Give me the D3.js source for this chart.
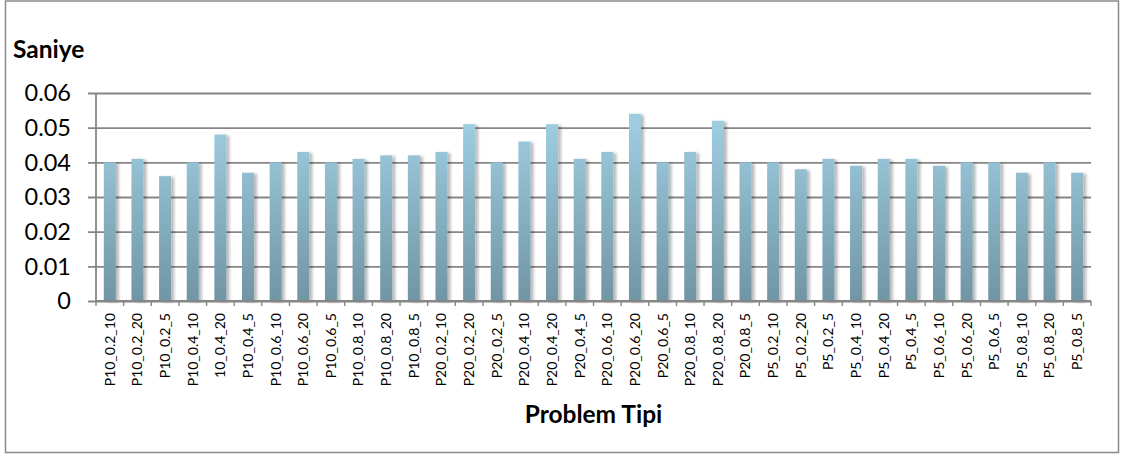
<!DOCTYPE html>
<html>
<head>
<meta charset="utf-8">
<script src="https://cdn.jsdelivr.net/npm/d3@7/dist/d3.min.js"></script>
<style>
  html, body { margin: 0; padding: 0; background: #fff; }
  svg { display: block; }
  text { font-family: Lato, "Open Sans", "Liberation Sans", sans-serif; }
</style>
</head>
<body>
<svg id="chart" width="1121" height="455"></svg>
<script>
// Problem types (x categories)
const categories = [
  "P10_0.2_10", "P10_0.2_20", "P10_0.2_5", "P10_0.4_10", "10_0.4_20", "P10_0.4_5",
  "P10_0.6_10", "P10_0.6_20", "P10_0.6_5", "P10_0.8_10", "P10_0.8_20", "P10_0.8_5",
  "P20_0.2_10", "P20_0.2_20", "P20_0.2_5", "P20_0.4_10", "P20_0.4_20", "P20_0.4_5",
  "P20_0.6_10", "P20_0.6_20", "P20_0.6_5", "P20_0.8_10", "P20_0.8_20", "P20_0.8_5",
  "P5_0.2_10", "P5_0.2_20", "P5_0.2_5", "P5_0.4_10", "P5_0.4_20", "P5_0.4_5",
  "P5_0.6_10", "P5_0.6_20", "P5_0.6_5", "P5_0.8_10", "P5_0.8_20", "P5_0.8_5"
];

// Run time in seconds for each problem type
const seconds = [
  0.040, 0.041, 0.036, 0.040, 0.048, 0.037,
  0.040, 0.043, 0.040, 0.041, 0.042, 0.042,
  0.043, 0.051, 0.040, 0.046, 0.051, 0.041,
  0.043, 0.054, 0.040, 0.043, 0.052, 0.040,
  0.040, 0.038, 0.041, 0.039, 0.041, 0.041,
  0.039, 0.040, 0.040, 0.037, 0.040, 0.037
];

const yTicks = [0, 0.01, 0.02, 0.03, 0.04, 0.05, 0.06];
const yTickLabels = ["0", "0.01", "0.02", "0.03", "0.04", "0.05", "0.06"];

const svg = d3.select("#chart");

const plot = { left: 96, right: 1091, top: 93, bottom: 301 };

const x = d3.scaleBand()
  .domain(categories)
  .range([plot.left, plot.right])
  .paddingInner(0.565)
  .paddingOuter(0.2825);

const y = d3.scaleLinear()
  .domain([0, 0.06])
  .range([plot.bottom, plot.top]);

const defs = svg.append("defs");
const grad = defs.append("linearGradient")
  .attr("id", "barFill")
  .attr("x1", 0).attr("x2", 0)
  .attr("gradientUnits", "userSpaceOnUse")
  .attr("y1", plot.top + 30).attr("y2", plot.bottom);
grad.append("stop").attr("offset", "0%").attr("stop-color", "#9ecde0");
grad.append("stop").attr("offset", "100%").attr("stop-color", "#7095a5");

const shadow = defs.append("filter")
  .attr("id", "barShadow")
  .attr("x", "-50%").attr("y", "-10%").attr("width", "200%").attr("height", "120%");
shadow.append("feGaussianBlur").attr("in", "SourceAlpha").attr("stdDeviation", 1.6).attr("result", "blur");
shadow.append("feOffset").attr("in", "blur").attr("dx", 2.5).attr("dy", 0.5).attr("result", "off");
shadow.append("feComponentTransfer").attr("in", "off").attr("result", "soft")
  .append("feFuncA").attr("type", "linear").attr("slope", 0.28);
const merge = shadow.append("feMerge");
merge.append("feMergeNode").attr("in", "soft");
merge.append("feMergeNode").attr("in", "SourceGraphic");

// Outer chart frame
svg.append("rect")
  .attr("x", 5.5).attr("y", 1)
  .attr("width", 1113).attr("height", 451.5)
  .attr("fill", "#fff")
  .attr("stroke", "#8a8a8a")
  .attr("stroke-width", 1.5);

// Horizontal gridlines with tick extensions to the left
const yAxis = d3.axisLeft(y)
  .tickValues(yTicks)
  .tickSize(-(plot.right - plot.left))
  .tickFormat("");
const gGrid = svg.append("g")
  .attr("transform", `translate(${plot.left},0)`)
  .call(yAxis);
gGrid.select(".domain").remove();
gGrid.selectAll(".tick line")
  .attr("x1", -8)
  .attr("stroke", "#868686")
  .attr("stroke-width", 1.8);

// Y tick labels
svg.append("g")
  .selectAll("text")
  .data(yTicks)
  .join("text")
  .attr("x", 71)
  .attr("y", d => y(d))
  .attr("dy", "0.36em")
  .attr("text-anchor", "end")
  .attr("font-size", 23.5)
  .attr("fill", "#000")
  .text((d, i) => yTickLabels[i]);

// Vertical axis line
svg.append("line")
  .attr("x1", plot.left).attr("x2", plot.left)
  .attr("y1", plot.top).attr("y2", plot.bottom)
  .attr("stroke", "#868686").attr("stroke-width", 1.8);

// Bars
svg.append("g")
  .selectAll("rect")
  .data(seconds)
  .join("rect")
  .attr("x", (d, i) => x(categories[i]))
  .attr("y", d => y(d))
  .attr("width", x.bandwidth())
  .attr("height", d => y(0) - y(d))
  .attr("fill", "url(#barFill)")
  .attr("filter", "url(#barShadow)");

// X axis with ticks between categories
const boundaries = d3.range(categories.length + 1).map(i => plot.left + i * x.step());
svg.append("line")
  .attr("x1", plot.left).attr("x2", plot.right)
  .attr("y1", plot.bottom).attr("y2", plot.bottom)
  .attr("stroke", "#868686").attr("stroke-width", 1.8);
svg.append("g")
  .selectAll("line")
  .data(boundaries)
  .join("line")
  .attr("x1", d => d).attr("x2", d => d)
  .attr("y1", plot.bottom).attr("y2", plot.bottom + 5)
  .attr("stroke", "#868686").attr("stroke-width", 1.4);

// Category labels, rotated
svg.append("g")
  .selectAll("text")
  .data(categories)
  .join("text")
  .attr("transform", d => `translate(${x(d) + x.bandwidth() / 2},313) rotate(-90)`)
  .attr("dy", "0.35em")
  .attr("text-anchor", "end")
  .attr("font-size", 14)
  .attr("fill", "#000")
  .text(d => d);

// Axis titles
svg.append("text")
  .attr("x", 13).attr("y", 58)
  .attr("font-size", 24.5)
  .attr("font-weight", "bold")
  .attr("fill", "#000")
  .text("Saniye");

svg.append("text")
  .attr("x", 593.5).attr("y", 423)
  .attr("text-anchor", "middle")
  .attr("font-size", 24.5)
  .attr("font-weight", "bold")
  .attr("fill", "#000")
  .text("Problem Tipi");
</script>
</body>
</html>
